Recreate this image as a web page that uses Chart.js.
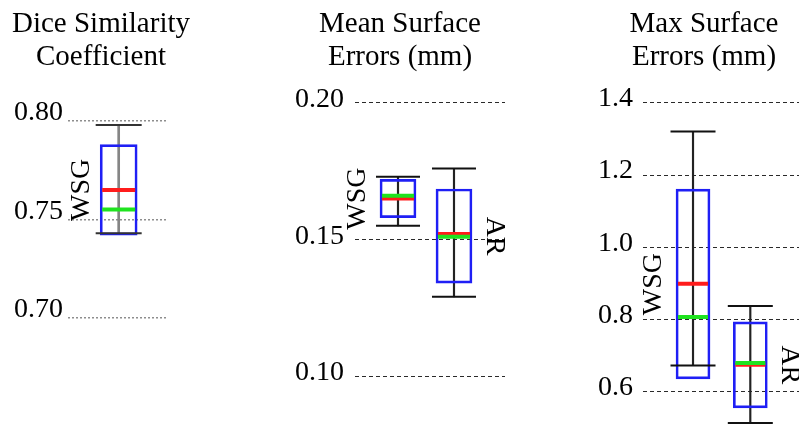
<!DOCTYPE html>
<html>
<head>
<meta charset="utf-8">
<title>Segmentation metrics</title>
<script src="https://cdn.jsdelivr.net/npm/chart.js@4/dist/chart.umd.min.js"></script>
<style>
  html, body { margin: 0; padding: 0; background: #fff; }
  body {
    width: 799px;
    height: 428px;
    position: relative;
    overflow: hidden;
    font-family: 'Liberation Serif', 'Times New Roman', serif;
  }
  canvas { position: absolute; top: 0; }
  .panel-title {
    position: absolute;
    top: 6px;
    width: 260px;
    text-align: center;
    font-size: 29px;
    line-height: 33px;
    color: #000;
    white-space: nowrap;
  }
</style>
</head>
<body>
<canvas id="dice" width="180" height="428" style="left:0"></canvas>
<canvas id="mean" width="240" height="428" style="left:270px"></canvas>
<canvas id="max" width="219" height="428" style="left:580px"></canvas>

<div class="panel-title" style="left:-29px">Dice Similarity<br>Coefficient</div>
<div class="panel-title" style="left:270px">Mean Surface<br>Errors (mm)</div>
<div class="panel-title" style="left:574px">Max Surface<br>Errors (mm)</div>

<script>
const groups = ['WSG', 'AR'];

// Dice similarity coefficient (WSG only)
const diceTicks = [0.70, 0.75, 0.80];
const diceLow = [0.743];
const diceQ1 = [0.742];
const diceMedian = [0.755];
const diceMean = [0.765];
const diceQ3 = [0.788];
const diceHigh = [0.798];

// mean surface errors, mm
const meanTicks = [0.10, 0.15, 0.20];
const meanLow = [0.155, 0.129];
const meanQ1 = [0.158, 0.134];
const meanMedian = [0.166, 0.151];
const meanMean = [0.165, 0.152];
const meanQ3 = [0.172, 0.1685];
const meanHigh = [0.173, 0.176];

// max surface errors, mm
const maxTicks = [0.6, 0.8, 1.0, 1.2, 1.4];
const maxLow = [0.673, 0.514];
const maxQ1 = [0.636, 0.556];
const maxMedian = [0.807, 0.680];
const maxMean = [0.899, 0.675];
const maxQ3 = [1.161, 0.794];
const maxHigh = [1.320, 0.838];

const BLUE = '#1f1ff5';
const RED = '#ff1c1c';
const GREEN = '#1fe31f';
const SERIF = "'Liberation Serif', 'Times New Roman', serif";

function boxPanel(id, s, look) {
  const at = (values) => values.map((v, i) => ({ x: i, y: v }));
  const span = (a, b) => a.map((v, i) => ({ x: i, y: [v, b[i]] }));

  // rotated group names beside each box: first one on the left, second on the right
  const groupNames = {
    id: 'groupNames',
    afterDatasetsDraw(chart) {
      const { ctx, scales } = chart;
      ctx.save();
      ctx.font = `28px ${SERIF}`;
      ctx.fillStyle = '#000';
      ctx.textAlign = 'center';
      ctx.textBaseline = 'middle';
      s.q1.forEach((q1, i) => {
        const cx = scales.x.getPixelForValue(i);
        const cy = (scales.y.getPixelForValue(q1) + scales.y.getPixelForValue(s.q3[i])) / 2;
        const side = i === 0 ? -1 : 1;
        ctx.save();
        ctx.translate(cx + side * (look.box / 2 + look.nameGap), cy);
        ctx.rotate(side * Math.PI / 2);
        ctx.fillText(groups[i], 0, 0);
        ctx.restore();
      });
      ctx.restore();
    },
  };

  new Chart(document.getElementById(id), {
    type: 'bar',
    data: {
      datasets: [
        {
          type: 'scatter',
          data: at(s.median),
          pointStyle: 'line',
          pointRadius: look.box / 2 - 2,
          pointBorderWidth: 4,
          pointBorderColor: GREEN,
          order: 1,
        },
        {
          type: 'scatter',
          data: at(s.mean),
          pointStyle: 'line',
          pointRadius: look.box / 2 - 2,
          pointBorderWidth: 4,
          pointBorderColor: RED,
          order: 2,
        },
        {
          type: 'scatter',
          data: at(s.low).concat(at(s.high)),
          pointStyle: 'line',
          pointRadius: look.cap / 2,
          pointBorderWidth: 2,
          pointBorderColor: look.capColor,
          order: 3,
        },
        {
          data: span(s.q1, s.q3),
          backgroundColor: 'rgba(0,0,0,0)',
          borderColor: BLUE,
          borderWidth: 2,
          borderSkipped: false,
          barThickness: look.box,
          grouped: false,
          order: 4,
        },
        {
          data: span(s.low, s.high),
          backgroundColor: look.stemColor,
          borderWidth: 0,
          barThickness: look.stem,
          grouped: false,
          order: 5,
        },
      ],
    },
    options: {
      responsive: false,
      animation: false,
      events: [],
      layout: {
        autoPadding: false,
        padding: { top: look.padTop, bottom: look.padBottom, left: 0, right: look.padRight },
      },
      plugins: { legend: { display: false }, tooltip: { enabled: false } },
      scales: {
        x: { type: 'linear', min: look.xMin, max: look.xMax, offset: false, display: false },
        y: {
          type: 'linear',
          min: look.yMin,
          max: look.yMax,
          afterFit(scale) {
            scale.width = look.axisWidth;
            scale.paddingTop = 0;
            scale.paddingBottom = 0;
          },
          afterBuildTicks(scale) { scale.ticks = s.ticks.map((v) => ({ value: v })); },
          border: { display: false, dash: look.dash },
          grid: { color: look.gridColor, lineWidth: look.gridWidth, drawTicks: false },
          ticks: {
            autoSkip: false,
            padding: look.tickPad,
            labelOffset: look.labelShift,
            color: '#000',
            font: { family: SERIF, size: 28 },
            callback: (v) => Number(v).toFixed(look.digits),
          },
        },
      },
    },
    plugins: [groupNames],
  });
}

boxPanel('dice', {
  ticks: diceTicks, low: diceLow, q1: diceQ1, median: diceMedian, mean: diceMean, q3: diceQ3, high: diceHigh,
}, {
  yMin: 0.66, yMax: 0.82, padTop: 81.7, padBottom: 31.6, padRight: 12, axisWidth: 68,
  xMin: -0.897, xMax: 0.873, box: 37, cap: 46, stem: 2, stemColor: '#858585', capColor: '#333',
  gridColor: '#8e8e8e', gridWidth: 1.5, dash: [2, 2], tickPad: 5, labelShift: -8, digits: 2, nameGap: 19,
});

boxPanel('mean', {
  ticks: meanTicks, low: meanLow, q1: meanQ1, median: meanMedian, mean: meanMean, q3: meanQ3, high: meanHigh,
}, {
  yMin: 0.085, yMax: 0.215, padTop: 62, padBottom: 11, padRight: 5, axisWidth: 85,
  xMin: -0.768, xMax: 1.911, box: 36, cap: 44, stem: 1.5, stemColor: '#222', capColor: '#111',
  gridColor: '#2a2a2a', gridWidth: 1, dash: [4, 3], tickPad: 11, labelShift: -3, digits: 2, nameGap: 22,
});

boxPanel('max', {
  ticks: maxTicks, low: maxLow, q1: maxQ1, median: maxMedian, mean: maxMean, q3: maxQ3, high: maxHigh,
}, {
  yMin: 0.505, yMax: 1.46, padTop: 81, padBottom: 1.7, padRight: 0, axisWidth: 63,
  xMin: -0.873, xMax: 1.85, box: 34, cap: 45, stem: 1.5, stemColor: '#222', capColor: '#111',
  gridColor: '#2a2a2a', gridWidth: 1, dash: [4, 3], tickPad: 10, labelShift: -4, digits: 1, nameGap: 22,
});
</script>
</body>
</html>
